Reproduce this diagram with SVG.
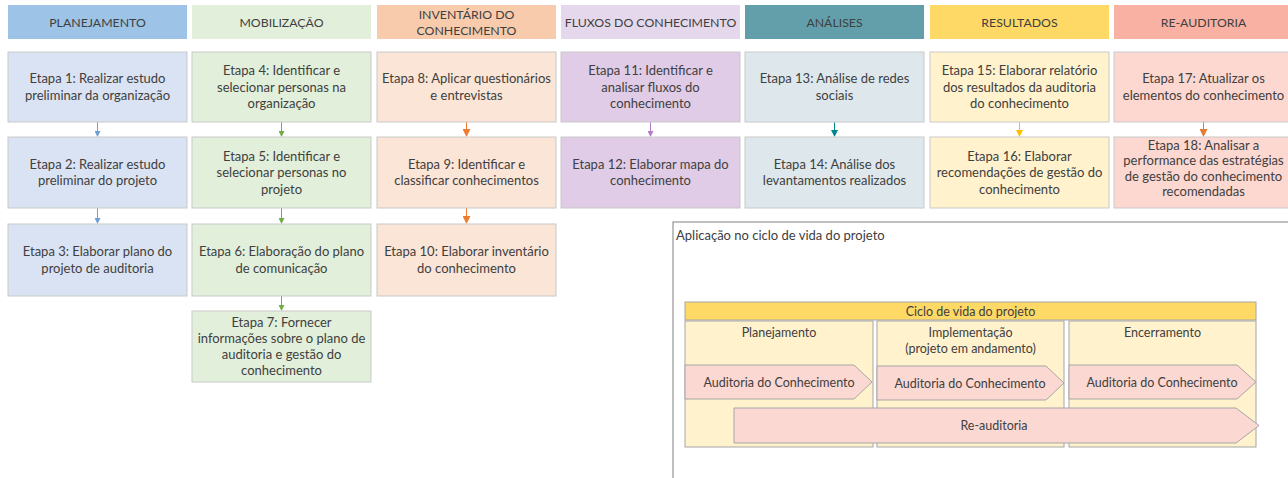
<svg xmlns="http://www.w3.org/2000/svg" width="1288" height="478" viewBox="0 0 1288 478">
<style>
text{font-family:Lato,"Liberation Sans",sans-serif;font-size:13px;fill:#404040;text-anchor:middle}
.hdt{font-size:12.3px}
.hd{stroke:none}
.nd{stroke:#C9C9C9;stroke-width:1}
.c1{fill:#DAE3F3}.c2{fill:#E2EFDA}.c3{fill:#FBE5D6}.c4{fill:#E0CCE6}.c5{fill:#DEE8EC}.c6{fill:#FFF2CC}.c7{fill:#FDD8D0}
.ph{fill:#FFF2CC;stroke:#A6A6A6;stroke-width:1}
.ar{fill:#FBD8D2;stroke:#A6A6A6;stroke-width:1}
.sm{font-size:12.5px}
.cn{stroke-width:1;fill:none}
.lt{text-anchor:start}
</style>
<defs>
<marker id="m1" markerWidth="6" markerHeight="6" refX="5" refY="3" orient="auto" markerUnits="userSpaceOnUse"><path d="M0,0 L6,3 L0,6 Z" fill="#6F9FD8"/></marker>
<marker id="m2" markerWidth="6" markerHeight="6" refX="5" refY="3" orient="auto" markerUnits="userSpaceOnUse"><path d="M0,0 L6,3 L0,6 Z" fill="#70AD47"/></marker>
<marker id="m3" markerWidth="8" markerHeight="8" refX="7" refY="4" orient="auto" markerUnits="userSpaceOnUse"><path d="M0,0 L8,4 L0,8 Z" fill="#ED7D31"/></marker>
<marker id="m4" markerWidth="6" markerHeight="6" refX="5" refY="3" orient="auto" markerUnits="userSpaceOnUse"><path d="M0,0 L6,3 L0,6 Z" fill="#B47CC7"/></marker>
<marker id="m5" markerWidth="7" markerHeight="7" refX="6" refY="3.5" orient="auto" markerUnits="userSpaceOnUse"><path d="M0,0 L7,3.5 L0,7 Z" fill="#00868B"/></marker>
<marker id="m6" markerWidth="7" markerHeight="7" refX="6" refY="3.5" orient="auto" markerUnits="userSpaceOnUse"><path d="M0,0 L7,3.5 L0,7 Z" fill="#FFC000"/></marker>
<marker id="m7" markerWidth="8" markerHeight="8" refX="7" refY="4" orient="auto" markerUnits="userSpaceOnUse"><path d="M0,0 L8,4 L0,8 Z" fill="#E57B35"/></marker>
</defs>
<rect width="1288" height="478" fill="#FFFFFF"/>

<g id="headers">
<g id="h1"><rect class="hd" x="8" y="5" width="179" height="34" fill="#9DC3E6"/><text class="hdt" x="97.5" y="26.5">PLANEJAMENTO</text></g>
<g id="h2"><rect class="hd" x="192" y="5" width="179" height="34" fill="#E2EFDA"/><text class="hdt" x="281.5" y="26.5">MOBILIZAÇÃO</text></g>
<g id="h3"><rect class="hd" x="377" y="5" width="179" height="34" fill="#F8CBAD"/><text class="hdt" x="466.5" y="18.5">INVENTÁRIO DO</text><text class="hdt" x="466.5" y="35">CONHECIMENTO</text></g>
<g id="h4"><rect class="hd" x="561" y="5" width="179" height="34" fill="#E6D8EC"/><text class="hdt" x="650.5" y="26.5">FLUXOS DO CONHECIMENTO</text></g>
<g id="h5"><rect class="hd" x="745" y="5" width="179" height="34" fill="#629FAA"/><text class="hdt" x="834.5" y="26.5">ANÁLISES</text></g>
<g id="h6"><rect class="hd" x="930" y="5" width="179" height="34" fill="#FFD966"/><text class="hdt" x="1019.5" y="26.5">RESULTADOS</text></g>
<g id="h7"><rect class="hd" x="1114" y="5" width="179" height="34" fill="#F8B1A3"/><text class="hdt" x="1203.5" y="26.5">RE-AUDITORIA</text></g>
</g>

<g id="connectors">
<line class="cn" stroke="#6F9FD8" x1="97.5" y1="122" x2="97.5" y2="136" marker-end="url(#m1)"/>
<line class="cn" stroke="#6F9FD8" x1="97.5" y1="208" x2="97.5" y2="223" marker-end="url(#m1)"/>
<line class="cn" stroke="#70AD47" x1="281.5" y1="122" x2="281.5" y2="136" marker-end="url(#m2)"/>
<line class="cn" stroke="#70AD47" x1="281.5" y1="208" x2="281.5" y2="223" marker-end="url(#m2)"/>
<line class="cn" stroke="#70AD47" x1="281.5" y1="296" x2="281.5" y2="310" marker-end="url(#m2)"/>
<line class="cn" stroke="#ED7D31" x1="466.5" y1="122" x2="466.5" y2="136" marker-end="url(#m3)"/>
<line class="cn" stroke="#ED7D31" x1="466.5" y1="208" x2="466.5" y2="223" marker-end="url(#m3)"/>
<line class="cn" stroke="#B47CC7" x1="650.5" y1="122" x2="650.5" y2="136" marker-end="url(#m4)"/>
<line class="cn" stroke="#00868B" x1="834.5" y1="122" x2="834.5" y2="136" marker-end="url(#m5)"/>
<line class="cn" stroke="#FFC000" x1="1019.5" y1="122" x2="1019.5" y2="136" marker-end="url(#m6)"/>
<line class="cn" stroke="#E57B35" x1="1203.5" y1="122" x2="1203.5" y2="136" marker-end="url(#m7)"/>
</g>

<g id="n1"><rect class="nd c1" x="8" y="52" width="179" height="70"/><text x="97.5" y="83">Etapa 1: Realizar estudo</text><text x="97.5" y="99.5">preliminar da organização</text></g>
<g id="n2"><rect class="nd c1" x="8" y="137" width="179" height="71"/><text x="97.5" y="168.5">Etapa 2: Realizar estudo</text><text x="97.5" y="185">preliminar do projeto</text></g>
<g id="n3"><rect class="nd c1" x="8" y="224" width="179" height="72"/><text x="97.5" y="256">Etapa 3: Elaborar plano do</text><text x="97.5" y="272.5">projeto de auditoria</text></g>

<g id="n4"><rect class="nd c2" x="192" y="52" width="179" height="70"/><text x="281.5" y="75">Etapa 4: Identificar e</text><text x="281.5" y="91.5">selecionar personas na</text><text x="281.5" y="108">organização</text></g>
<g id="n5"><rect class="nd c2" x="192" y="137" width="179" height="71"/><text x="281.5" y="160.5">Etapa 5: Identificar e</text><text x="281.5" y="177">selecionar personas no</text><text x="281.5" y="193.5">projeto</text></g>
<g id="n6"><rect class="nd c2" x="192" y="224" width="179" height="72"/><text x="281.5" y="256">Etapa 6: Elaboração do plano</text><text x="281.5" y="272.5">de comunicação</text></g>
<g id="n7"><rect class="nd c2" x="192" y="311" width="179" height="71"/><text x="281.5" y="327">Etapa 7: Fornecer</text><text x="281.5" y="343">informações sobre o plano de</text><text x="281.5" y="359">auditoria e gestão do</text><text x="281.5" y="375">conhecimento</text></g>

<g id="n8"><rect class="nd c3" x="377" y="52" width="179" height="70"/><text x="466.5" y="83">Etapa 8: Aplicar questionários</text><text x="466.5" y="99.5">e entrevistas</text></g>
<g id="n9"><rect class="nd c3" x="377" y="137" width="179" height="71"/><text x="466.5" y="168.5">Etapa 9: Identificar e</text><text x="466.5" y="185">classificar conhecimentos</text></g>
<g id="n10"><rect class="nd c3" x="377" y="224" width="179" height="72"/><text x="466.5" y="256">Etapa 10: Elaborar inventário</text><text x="466.5" y="272.5">do conhecimento</text></g>

<g id="n11"><rect class="nd c4" x="561" y="52" width="179" height="70"/><text x="650.5" y="75">Etapa 11: Identificar e</text><text x="650.5" y="91.5">analisar fluxos do</text><text x="650.5" y="108">conhecimento</text></g>
<g id="n12"><rect class="nd c4" x="561" y="137" width="179" height="71"/><text x="650.5" y="168.5">Etapa 12: Elaborar mapa do</text><text x="650.5" y="185">conhecimento</text></g>

<g id="n13"><rect class="nd c5" x="745" y="52" width="179" height="70"/><text x="834.5" y="83">Etapa 13: Análise de redes</text><text x="834.5" y="99.5">sociais</text></g>
<g id="n14"><rect class="nd c5" x="745" y="137" width="179" height="71"/><text x="834.5" y="168.5">Etapa 14: Análise dos</text><text x="834.5" y="185">levantamentos realizados</text></g>

<g id="n15"><rect class="nd c6" x="930" y="52" width="179" height="70"/><text x="1019.5" y="75">Etapa 15: Elaborar relatório</text><text x="1019.5" y="91.5">dos resultados da auditoria</text><text x="1019.5" y="108">do conhecimento</text></g>
<g id="n16"><rect class="nd c6" x="930" y="137" width="179" height="71"/><text x="1019.5" y="160.5">Etapa 16: Elaborar</text><text x="1019.5" y="177">recomendações de gestão do</text><text x="1019.5" y="193.5">conhecimento</text></g>

<g id="n17"><rect class="nd c7" x="1114" y="52" width="179" height="70"/><text x="1203.5" y="83">Etapa 17: Atualizar os</text><text x="1203.5" y="99.5">elementos do conhecimento</text></g>
<g id="n18"><rect class="nd c7" x="1114" y="137" width="179" height="71"/><text x="1203.5" y="149.5">Etapa 18: Analisar a</text><text x="1203.5" y="165">performance das estratégias</text><text x="1203.5" y="180.5">de gestão do conhecimento</text><text x="1203.5" y="196">recomendadas</text></g>

<g id="lifecycle">
<rect x="673" y="222" width="620" height="262" fill="#FFFFFF" stroke="#808080" stroke-width="1"/>
<text class="lt" x="676" y="239.5">Aplicação no ciclo de vida do projeto</text>
<g id="ciclo"><rect x="685" y="302" width="571" height="18" fill="#FFD966" stroke="#A6A6A6"/><text class="sm" x="970.5" y="315.5">Ciclo de vida do projeto</text></g>
<g id="fase1"><rect class="ph" x="685" y="321" width="188" height="126"/><text class="sm" x="779" y="337">Planejamento</text></g>
<g id="fase2"><rect class="ph" x="877" y="321" width="187" height="126"/><text class="sm" x="970.5" y="336.5">Implementação</text><text class="sm" x="970.5" y="352.5">(projeto em andamento)</text></g>
<g id="fase3"><rect class="ph" x="1069" y="321" width="187" height="126"/><text class="sm" x="1162.5" y="336.5">Encerramento</text></g>
<g id="aud1"><polygon class="ar" points="685,365 854,365 872,382 854,399 685,399"/><text class="sm" x="779" y="387">Auditoria do Conhecimento</text></g>
<g id="aud2"><polygon class="ar" points="877,366 1046,366 1064,383 1046,400 877,400"/><text class="sm" x="970" y="388">Auditoria do Conhecimento</text></g>
<g id="aud3"><polygon class="ar" points="1069,365 1237,365 1256,382 1237,399 1069,399"/><text class="sm" x="1162" y="387">Auditoria do Conhecimento</text></g>
<g id="reaud"><polygon class="ar" points="734,408 1236,408 1259,425.5 1236,443 734,443"/><text class="sm" x="994" y="430">Re-auditoria</text></g>
</g>
</svg>
